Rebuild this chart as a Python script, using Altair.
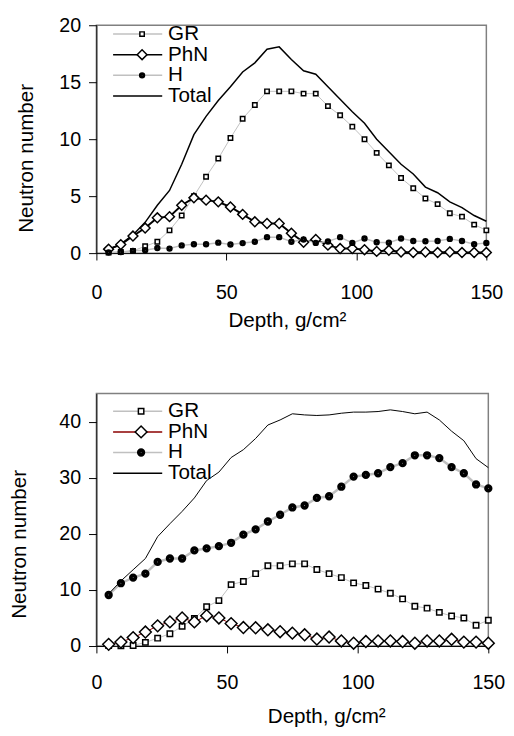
import altair as alt
import pandas as pd

# ---------------- data ----------------
depth = [4.69, 9.38, 14.06, 18.75, 23.44, 28.13, 32.81, 37.5, 42.19, 46.88,
         51.56, 56.25, 60.94, 65.63, 70.31, 75.0, 79.69, 84.38, 89.06, 93.75,
         98.44, 103.13, 107.81, 112.5, 117.19, 121.88, 126.56, 131.25, 135.94,
         140.63, 145.31, 150.0]

series = ["GR", "PhN", "H", "Total"]
marker_series = ["GR", "PhN", "H"]

top_gr = [0.05, 0.1, 0.2, 0.6, 1.0, 2.0, 3.3, 5.0, 6.7, 8.3, 10.1, 11.8, 13.0, 14.2,
          14.2, 14.2, 14.0, 14.0, 12.9, 12.1, 11.1, 10.0, 8.8, 7.7, 6.6, 5.7, 4.8,
          4.3, 3.5, 3.2, 2.5, 2.0]
top_phn = [0.35, 0.75, 1.5, 2.2, 3.1, 3.2, 4.2, 4.85, 4.65, 4.5, 4.05, 3.4, 2.75, 2.6,
           2.6, 1.75, 0.95, 1.2, 0.7, 0.4, 0.4, 0.3, 0.15, 0.25, 0.1, 0.05, 0.1, 0.05,
           0.1, 0.05, 0.05, 0.05]
top_h = [0.05, 0.1, 0.2, 0.25, 0.45, 0.4, 0.68, 0.78, 0.78, 0.92, 0.76, 0.88, 1.0, 1.4,
         1.4, 1.0, 1.2, 0.9, 1.02, 1.4, 0.9, 1.28, 0.95, 0.92, 1.28, 1.06, 1.04, 1.06,
         1.25, 1.06, 0.78, 0.9]
top_total = [0.3, 0.8, 1.6, 2.7, 4.2, 5.5, 7.8, 10.4, 12.0, 13.4, 14.6, 15.9, 16.7, 17.9,
             18.1, 17.0, 16.0, 15.7, 14.6, 13.5, 12.4, 11.4, 10.0, 8.9, 7.8, 6.95, 5.8,
             5.3, 4.5, 4.0, 3.3, 2.8]

bot_gr = [0.1, 0.05, 0.1, 0.65, 1.4, 2.2, 3.5, 4.9, 7.0, 8.1, 10.95, 11.5, 12.9, 14.3,
          14.3, 14.65, 14.65, 13.65, 12.9, 12.2, 11.25, 10.8, 10.15, 9.4, 8.4, 7.1,
          6.75, 6.0, 5.35, 5.0, 3.7, 4.6]
bot_phn = [0.3, 0.7, 1.5, 2.5, 3.6, 4.3, 5.0, 4.3, 5.4, 5.0, 4.0, 3.3, 3.25, 2.9, 2.55,
           2.3, 2.0, 1.25, 1.6, 0.9, 0.5, 0.8, 0.9, 0.9, 0.8, 0.5, 0.9, 0.9, 1.2, 0.7,
           0.7, 0.5]
bot_h = [9.1, 11.2, 12.2, 12.9, 15.0, 15.6, 15.6, 17.05, 17.4, 17.8, 18.4, 19.85, 20.8,
         22.2, 23.4, 24.7, 25.05, 26.4, 26.7, 28.4, 30.2, 30.5, 30.8, 31.9, 32.6, 34.0,
         34.0, 33.5, 31.9, 30.8, 28.8, 28.1]
bot_total = [9.3, 11.6, 13.6, 15.6, 19.5, 21.8, 24.0, 26.4, 29.5, 31.0, 33.6, 35.0, 37.0,
             39.4, 40.3, 41.4, 41.2, 41.1, 41.2, 41.5, 41.7, 41.7, 41.8, 42.1, 41.8, 41.4,
             41.7, 40.3, 38.3, 36.6, 33.4, 31.8]

x_ticks = [0, 50, 100, 150]
top_y_ticks = [0, 5, 10, 15, 20]
bot_y_ticks = [0, 10, 20, 30, 40]

FONT = "Liberation Sans"


def long_df(gr, phn, h, total, widths):
    rows = []
    for name, vals, lw in zip(series, [gr, phn, h, total], widths):
        for d, v in zip(depth, vals):
            rows.append({"depth": d, "series": name, "value": v, "lw": lw})
    return pd.DataFrame(rows)


def circle_path(r):
    return f"M{r},0A{r},{r},0,1,1,-{r},0A{r},{r},0,1,1,{r},0Z"


def shapes(sq, radii):
    square = f"M-{sq},-{sq}H{sq}V{sq}H-{sq}Z"
    diamond = "M-1,0L0,-1L1,0L0,1Z"
    dot = "".join(circle_path(r) for r in radii)  # concentric rings -> solid dot
    return [square, diamond, dot]


def panel(df, ydom, yticks, w, h, line_colors, mk_size, shape_paths,
          leg_x, leg_y, x_lp, x_tp, y_tp, title_y, title_x):
    xaxis = alt.Axis(values=x_ticks, title="Depth, g/cm\u00b2", tickSize=7,
                     labelPadding=x_lp, titlePadding=x_tp, labelFlush=False,
                     titleX=title_x)
    yaxis = alt.Axis(values=yticks, title="Neutron number", tickSize=8,
                     labelPadding=8, titlePadding=y_tp, titleY=title_y)
    x = alt.X("depth:Q", scale=alt.Scale(domain=[0, 150], nice=False, zero=False), axis=xaxis)
    y = alt.Y("value:Q", scale=alt.Scale(domain=ydom, nice=False), axis=yaxis)

    line_legend = alt.Legend(title=None, orient="none", legendX=leg_x, legendY=leg_y,
                             symbolType="stroke", symbolSize=2500, symbolStrokeWidth=1.5,
                             labelFontSize=21, labelFont=FONT, labelColor="black",
                             labelOffset=5, rowPadding=0, clipHeight=20, padding=0,
                             direction="vertical")
    lines = alt.Chart(df).mark_line().encode(
        x=x, y=y,
        stroke=alt.Stroke("series:N", scale=alt.Scale(domain=series, range=line_colors),
                          legend=line_legend),
        strokeWidth=alt.StrokeWidth("lw:Q", scale=None),
    )

    mk_half = mk_size ** 0.5 / 2
    mk_legend = alt.Legend(title=None, orient="none", legendX=leg_x + 25 - mk_half,
                           legendY=leg_y, symbolSize=mk_size, symbolStrokeWidth=1.5,
                           labelFontSize=21, labelFont=FONT, labelOpacity=0,
                           symbolOpacity=1, rowPadding=0, clipHeight=20, padding=0,
                           direction="vertical")
    pts_df = df[df["series"] != "Total"]
    points = alt.Chart(pts_df).mark_point(filled=True, fill="white", stroke="black",
                                          strokeWidth=1.5, size=mk_size, opacity=1).encode(
        x=x, y=y,
        shape=alt.Shape("series:N", scale=alt.Scale(domain=marker_series, range=shape_paths),
                        legend=mk_legend),
    )
    return alt.layer(lines, points).properties(width=w, height=h)


top = panel(long_df(top_gr, top_phn, top_h, top_total, [1, 2, 1.5, 1.5]), [0, 20],
            top_y_ticks, 397, 232, ["#c0c0c0", "black", "#c0c0c0", "black"],
            100, shapes(0.45, [0.5, 0.3, 0.1]),
            leg_x=16, leg_y=-1, x_lp=23, x_tp=8, y_tp=23, title_y=135, title_x=194)

bottom = panel(long_df(bot_gr, bot_phn, bot_h, bot_total, [1, 1, 2.5, 1]), [0, 45],
               bot_y_ticks, 399, 257, ["#c0c0c0", "#8b0000", "#c0c0c0", "black"],
               144, shapes(0.46, [0.58, 0.4, 0.22, 0.06]),
               leg_x=16, leg_y=8, x_lp=20, x_tp=14, y_tp=30, title_y=153,
               title_x=234)

chart = alt.concat(top, bottom, columns=1, spacing=62, align="none").resolve_scale(
    shape="independent", stroke="independent"
).properties(
    padding=0
).configure_view(
    stroke="#808080", strokeWidth=1.5
).configure_axis(
    grid=False, domainColor="black", domainWidth=1, tickColor="black", tickWidth=1,
    labelColor="black", titleColor="black", labelFont=FONT, titleFont=FONT,
    labelFontSize=20, titleFontSize=21, titleFontWeight="normal"
).configure_legend(
    labelFont=FONT
)

chart.save("out.html", embed_options={"renderer": "svg", "actions": False})
